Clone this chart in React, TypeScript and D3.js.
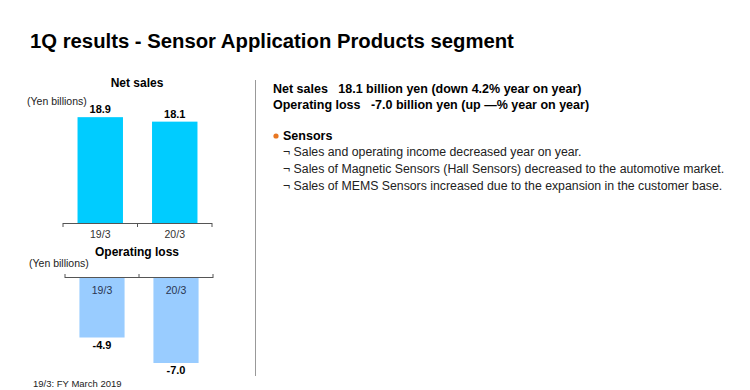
import React, { useRef, useEffect } from "react";
import * as d3 from "d3";

// chart data
const periods = ["19/3", "20/3"];
const netSales = [18.9, 18.1];
const operatingLoss = [-4.9, -7.0];

const summaryLines = [
  "Net sales   18.1 billion yen (down 4.2% year on year)",
  "Operating loss   -7.0 billion yen (up \u2014% year on year)",
];
const bulletTitle = "Sensors";
const bulletItems = [
  "Sales and operating income decreased year on year.",
  "Sales of Magnetic Sensors (Hall Sensors) decreased to the automotive market.",
  "Sales of MEMS Sensors increased due to the expansion in the customer base.",
];
const footnote = "19/3: FY March 2019";

const W = 750;
const H = 390;
const FONT = "'Liberation Sans', Arial, sans-serif";

function App() {
  const svgRef = useRef<SVGSVGElement>(null);

  useEffect(() => {
    const svg = d3.select(svgRef.current);
    svg.selectAll("*").remove();
    svg.attr("font-family", FONT);

    svg.append("rect").attr("width", W).attr("height", H).attr("fill", "#fff");

    // Title
    svg
      .append("text")
      .attr("x", 30)
      .attr("y", 48)
      .attr("font-size", 20.3)
      .attr("font-weight", "bold")
      .attr("fill", "#000")
      .text("1Q results - Sensor Application Products segment");

    // ---- Net sales chart
    const data1 = periods.map((p, i) => ({ p, v: netSales[i] }));
    const x1 = d3
      .scaleBand<string>()
      .domain(periods)
      .range([63, 212])
      .paddingInner(0.39)
      .paddingOuter(0.195);
    const base1 = 223;
    const y1 = d3.scaleLinear().domain([0, 20]).range([base1, base1 - 112]);

    const g1 = svg.append("g");
    g1.append("text")
      .attr("x", 137)
      .attr("y", 87)
      .attr("text-anchor", "middle")
      .attr("font-size", 12)
      .attr("font-weight", "bold")
      .text("Net sales");
    g1.append("text")
      .attr("x", 27)
      .attr("y", 105)
      .attr("font-size", 10.5)
      .attr("fill", "#222")
      .text("(Yen billions)");

    g1.selectAll("rect.bar")
      .data(data1)
      .enter()
      .append("rect")
      .attr("class", "bar")
      .attr("x", (d) => x1(d.p)!)
      .attr("width", x1.bandwidth())
      .attr("y", (d) => y1(d.v))
      .attr("height", (d) => y1(0) - y1(d.v))
      .attr("fill", "#00CCFF");

    g1.selectAll("text.val")
      .data(data1)
      .enter()
      .append("text")
      .attr("class", "val")
      .attr("x", (d) => x1(d.p)! + x1.bandwidth() / 2)
      .attr("y", (d) => y1(d.v) - 4)
      .attr("text-anchor", "middle")
      .attr("font-size", 11)
      .attr("font-weight", "bold")
      .text((d) => d.v.toFixed(1));

    // axis with ticks at band boundaries
    const step1 = x1.step();
    const r1 = x1.range();
    const ticks1 = [r1[0], ...periods.slice(1).map((p) => x1(p)! - (step1 - x1.bandwidth()) / 2), r1[1]];
    g1.append("line")
      .attr("x1", r1[0])
      .attr("x2", r1[1])
      .attr("y1", base1 + 0.5)
      .attr("y2", base1 + 0.5)
      .attr("stroke", "#555");
    g1.selectAll("line.tick")
      .data(ticks1)
      .enter()
      .append("line")
      .attr("class", "tick")
      .attr("x1", (d) => d)
      .attr("x2", (d) => d)
      .attr("y1", base1)
      .attr("y2", base1 + 4)
      .attr("stroke", "#555");
    g1.selectAll("text.cat")
      .data(data1)
      .enter()
      .append("text")
      .attr("class", "cat")
      .attr("x", (d) => x1(d.p)! + x1.bandwidth() / 2)
      .attr("y", base1 + 15)
      .attr("text-anchor", "middle")
      .attr("font-size", 10.5)
      .attr("fill", "#333")
      .text((d) => d.p);

    // ---- Operating loss chart
    const data2 = periods.map((p, i) => ({ p, v: operatingLoss[i] }));
    const x2 = d3
      .scaleBand<string>()
      .domain(periods)
      .range([65, 213])
      .paddingInner(0.39)
      .paddingOuter(0.195);
    const base2 = 278;
    const y2 = d3.scaleLinear().domain([0, -7]).range([base2, base2 + 85]);

    const g2 = svg.append("g");
    g2.append("text")
      .attr("x", 137)
      .attr("y", 256)
      .attr("text-anchor", "middle")
      .attr("font-size", 12)
      .attr("font-weight", "bold")
      .text("Operating loss");
    g2.append("text")
      .attr("x", 29)
      .attr("y", 267)
      .attr("font-size", 10.5)
      .attr("fill", "#222")
      .text("(Yen billions)");

    g2.selectAll("rect.bar")
      .data(data2)
      .enter()
      .append("rect")
      .attr("class", "bar")
      .attr("x", (d) => x2(d.p)!)
      .attr("width", x2.bandwidth())
      .attr("y", y2(0))
      .attr("height", (d) => y2(d.v) - y2(0))
      .attr("fill", "#99CCFF");

    g2.selectAll("text.val")
      .data(data2)
      .enter()
      .append("text")
      .attr("class", "val")
      .attr("x", (d) => x2(d.p)! + x2.bandwidth() / 2)
      .attr("y", (d) => y2(d.v) + 11)
      .attr("text-anchor", "middle")
      .attr("font-size", 11)
      .attr("font-weight", "bold")
      .text((d) => d.v.toFixed(1));

    const step2 = x2.step();
    const r2 = x2.range();
    const ticks2 = [r2[0], ...periods.slice(1).map((p) => x2(p)! - (step2 - x2.bandwidth()) / 2), r2[1]];
    g2.append("line")
      .attr("x1", r2[0])
      .attr("x2", r2[1])
      .attr("y1", base2 - 0.5)
      .attr("y2", base2 - 0.5)
      .attr("stroke", "#555");
    g2.selectAll("line.tick")
      .data(ticks2)
      .enter()
      .append("line")
      .attr("class", "tick")
      .attr("x1", (d) => d)
      .attr("x2", (d) => d)
      .attr("y1", base2)
      .attr("y2", base2 - 4)
      .attr("stroke", "#555");
    g2.selectAll("text.cat")
      .data(data2)
      .enter()
      .append("text")
      .attr("class", "cat")
      .attr("x", (d) => x2(d.p)! + x2.bandwidth() / 2)
      .attr("y", base2 + 16)
      .attr("text-anchor", "middle")
      .attr("font-size", 10.5)
      .attr("fill", "#2a3550")
      .text((d) => d.p);

    // footnote
    svg
      .append("text")
      .attr("x", 33)
      .attr("y", 387)
      .attr("font-size", 9.5)
      .attr("fill", "#222")
      .text(footnote);

    // separator
    svg
      .append("line")
      .attr("x1", 255.5)
      .attr("x2", 255.5)
      .attr("y1", 80)
      .attr("y2", 376)
      .attr("stroke", "#999");

    // ---- Right-hand text
    const tg = svg.append("g");
    tg.selectAll("text.sum")
      .data(summaryLines)
      .enter()
      .append("text")
      .attr("class", "sum")
      .attr("x", 273)
      .attr("y", (d, i) => 93 + i * 16)
      .attr("font-size", 12.5)
      .attr("font-weight", "bold")
      .attr("xml:space", "preserve")
      .style("white-space", "pre")
      .text((d) => d);

    tg.append("circle").attr("cx", 276).attr("cy", 136).attr("r", 2.6).attr("fill", "#E87722");
    tg.append("text")
      .attr("x", 283)
      .attr("y", 140)
      .attr("font-size", 12.5)
      .attr("font-weight", "bold")
      .text(bulletTitle);

    tg.selectAll("text.item")
      .data(bulletItems)
      .enter()
      .append("text")
      .attr("class", "item")
      .attr("x", 283)
      .attr("y", (d, i) => 156 + i * 17)
      .attr("font-size", 12.3)
      .attr("fill", "#222")
      .text((d) => "\u00AC " + d);
  }, []);

  return (
    <svg
      ref={svgRef}
      width={W}
      height={H}
      style={{ position: "absolute", left: 0, top: 0 }}
    />
  );
}

export default App;
